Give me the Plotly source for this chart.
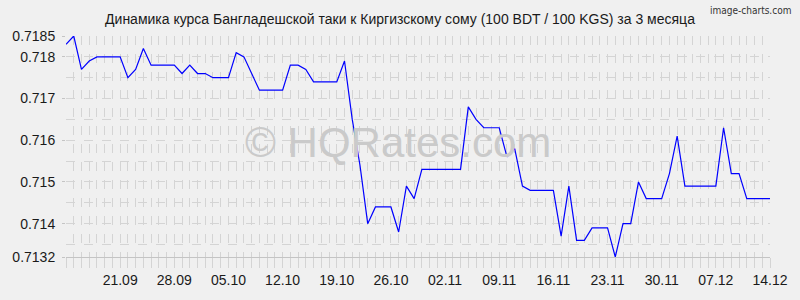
import pandas as pd
import plotly.graph_objects as go

# Daily dates (14.09 -> 14.12)
dates = pd.date_range("2021-09-14", "2021-12-14", freq="D")

# BDT/KGS rate (100 BDT / 100 KGS)
rates = [
    0.7183, 0.7185, 0.7177, 0.7179, 0.7180, 0.7180, 0.7180, 0.7180,
    0.7175, 0.7177, 0.7182, 0.7178, 0.7178, 0.7178, 0.7178, 0.7176,
    0.7178, 0.7176, 0.7176, 0.7175, 0.7175, 0.7175, 0.7181, 0.7180,
    0.7176, 0.7172, 0.7172, 0.7172, 0.7172, 0.7178, 0.7178, 0.7177,
    0.7174, 0.7174, 0.7174, 0.7174, 0.7179, 0.7165, 0.7154, 0.7140,
    0.7144, 0.7144, 0.7144, 0.7138, 0.7149, 0.7146, 0.7153, 0.7153,
    0.7153, 0.7153, 0.7153, 0.7153, 0.7168, 0.7165, 0.7163, 0.7163,
    0.7163, 0.7156, 0.7158, 0.7149, 0.7148, 0.7148, 0.7148, 0.7148,
    0.7137, 0.7149, 0.7136, 0.7136, 0.7139, 0.7139, 0.7139, 0.7132,
    0.7140, 0.7140, 0.7150, 0.7146, 0.7146, 0.7146, 0.7152, 0.7161,
    0.7149, 0.7149, 0.7149, 0.7149, 0.7149, 0.7163, 0.7152, 0.7152,
    0.7146, 0.7146, 0.7146, 0.7146,
]

# Weekly x tick labels
x_tickvals = pd.date_range("2021-09-21", "2021-12-14", freq="7D")
x_ticktext = [d.strftime("%d.%m") for d in x_tickvals]

y_tickvals = [0.7185, 0.718, 0.717, 0.716, 0.715, 0.714, 0.7132]
y_ticktext = ["0.7185", "0.718", "0.717", "0.716", "0.715", "0.714", "0.7132"]

title_text = "Динамика курса Бангладешской таки к Киргизскому сому (100 BDT / 100 KGS) за 3 месяца"
watermark = "© HQRates.com"
brand = "image-charts.com"

BG = "#f0f0f0"
GRID = "#d4d4d4"
FONT = "Liberation Sans, Arial, sans-serif"

fig = go.Figure()
fig.add_trace(go.Scatter(
    x=dates, y=rates, mode="lines",
    line=dict(color="#0000ff", width=1.2),
    hoverinfo="x+y",
))

fig.update_layout(
    width=800, height=300,
    margin=dict(l=60, r=21, t=36, b=34),
    paper_bgcolor=BG, plot_bgcolor=BG,
    showlegend=False,
    title=dict(text=title_text, x=0.5, xanchor="center", y=0.935, yanchor="middle",
               font=dict(family=FONT, size=14, color="#1a1a1a")),
    font=dict(family=FONT, size=14, color="#1a1a1a"),
)

fig.update_xaxes(
    type="date",
    range=[dates[0], dates[-1]],
    tickmode="array", tickvals=x_tickvals, ticktext=x_ticktext,
    ticks="outside", ticklen=10, tickcolor=GRID, tickwidth=1,
    showgrid=True, gridcolor=GRID, griddash="dash", gridwidth=1,
    minor=dict(tick0=dates[0], dtick=86400000, ticks="outside", ticklen=10, tickcolor=GRID,
               showgrid=True, gridcolor=GRID, griddash="dash", gridwidth=1),
    showline=True, linecolor="#c4c4c4", linewidth=1,
    zeroline=False,
    tickfont=dict(family=FONT, size=14, color="#1a1a1a"),
)

fig.update_yaxes(
    range=[0.7132, 0.7185],
    tickvals=y_tickvals, ticktext=y_ticktext,
    ticks="outside", ticklen=3, tickcolor="#c4c4c4",
    showgrid=True, gridcolor=GRID, griddash="dash", gridwidth=1,
    minor=dict(tick0=0.7130, dtick=0.0005, showgrid=True, gridcolor=GRID,
               griddash="dash", gridwidth=1),
    showline=False, zeroline=False,
    tickfont=dict(family=FONT, size=14, color="#1a1a1a"),
    ticklabelstandoff=4,
)

fig.add_annotation(
    text=watermark, xref="paper", yref="paper", x=0.472, y=0.518,
    xanchor="center", yanchor="middle", showarrow=False,
    font=dict(family=FONT, size=42, color="#cacaca"),
)
fig.add_annotation(
    text=brand, xref="paper", yref="paper", x=1.0 + 24 / 719, y=1.0 + 27 / 230,
    xanchor="right", yanchor="middle", showarrow=False,
    font=dict(family="Liberation Sans Narrow, DejaVu Sans Condensed, sans-serif", size=10, color="#333333"),
)

fig.write_html("out.html")
